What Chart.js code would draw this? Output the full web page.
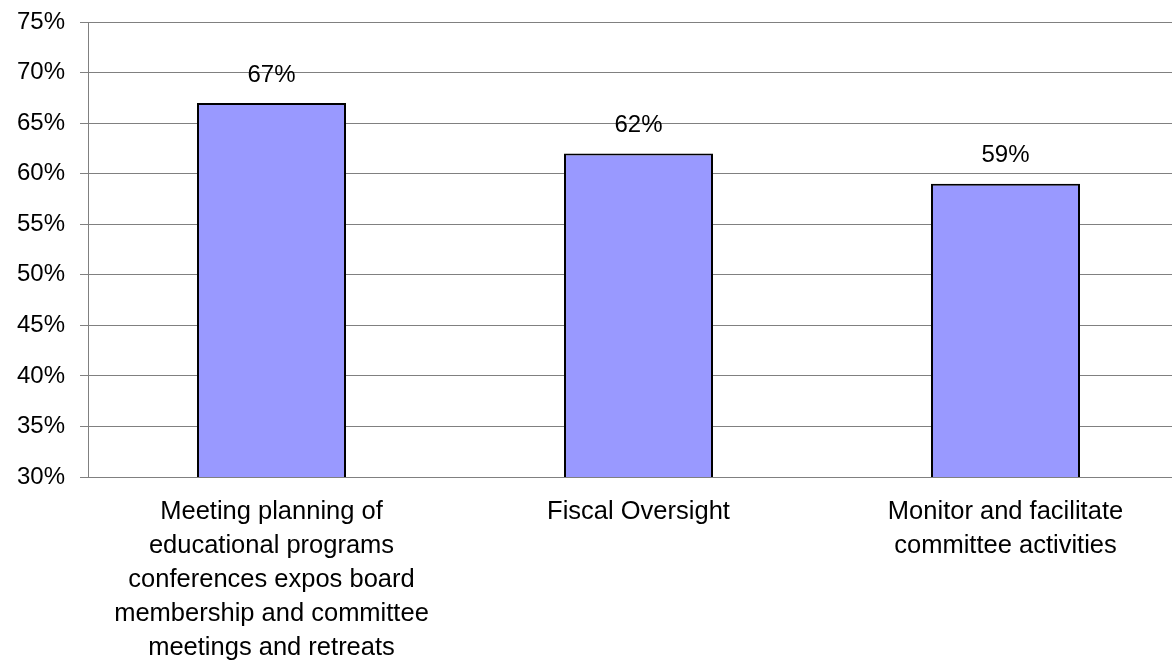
<!DOCTYPE html>
<html>
<head>
<meta charset="utf-8">
<script src="https://cdn.jsdelivr.net/npm/chart.js@4/dist/chart.umd.min.js"></script>
<style>
  html, body { margin: 0; padding: 0; background: #fff; overflow: hidden; }
  /* a área do gráfico passa um pouco da borda direita da janela */
  #wrap { width: 1189px; height: 663px; position: relative; }
</style>
</head>
<body>
<div id="wrap"><canvas id="grafico"></canvas></div>
<script>
// categorias (quebradas em linhas) e valores em %
const categorias = [
  ['Meeting planning of', 'educational programs', 'conferences expos board', 'membership and committee', 'meetings and retreats'],
  ['Fiscal Oversight'],
  ['Monitor and facilitate', 'committee activities']
];
const valores = [67, 62, 59];
const eixoY = { min: 30, max: 75, passo: 5 };

const FONTE = '"Liberation Sans", Arial, sans-serif';
const CINZA = '#808080';

// escreve o valor acima de cada barra
const rotulosValor = {
  id: 'rotulosValor',
  afterDatasetsDraw(chart) {
    const ctx = chart.ctx;
    const meta = chart.getDatasetMeta(0);
    ctx.save();
    ctx.font = '24px ' + FONTE;
    ctx.fillStyle = '#000';
    ctx.textAlign = 'center';
    ctx.textBaseline = 'middle';
    meta.data.forEach((barra, i) => {
      ctx.fillText(valores[i] + '%', barra.x, barra.y - 28);
    });
    ctx.restore();
  }
};

new Chart(document.getElementById('grafico'), {
  type: 'bar',
  data: {
    labels: categorias,
    datasets: [{
      data: valores,
      backgroundColor: '#9999FF',
      borderColor: '#000',
      borderWidth: 2,
      borderSkipped: false,
      categoryPercentage: 1,
      barPercentage: 0.406
    }]
  },
  options: {
    responsive: true,
    maintainAspectRatio: false,
    animation: false,
    layout: { padding: { top: 22, right: 0, left: 0, bottom: 0 } },
    plugins: { legend: { display: false }, tooltip: { enabled: false } },
    scales: {
      x: {
        grid: { display: false, drawTicks: false },
        border: { color: CINZA, width: 1 },
        ticks: {
          color: '#000',
          padding: 18,
          maxRotation: 0,
          autoSkip: false,
          font: { family: FONTE, size: 25.5, lineHeight: 34 / 25.5 }
        },
        afterFit(scale) { scale.height = 186; }
      },
      y: {
        min: eixoY.min,
        max: eixoY.max,
        grid: { color: CINZA, lineWidth: 1, tickLength: 8, drawTicks: true },
        border: { color: CINZA, width: 1 },
        ticks: {
          stepSize: eixoY.passo,
          color: '#000',
          padding: 15,
          font: { family: FONTE, size: 24 },
          callback: v => v + '%'
        },
        afterFit(scale) {
          scale.width = 88;
          scale.paddingTop = 0;
          scale.paddingBottom = 0;
        }
      }
    }
  },
  plugins: [rotulosValor]
});
</script>
</body>
</html>
